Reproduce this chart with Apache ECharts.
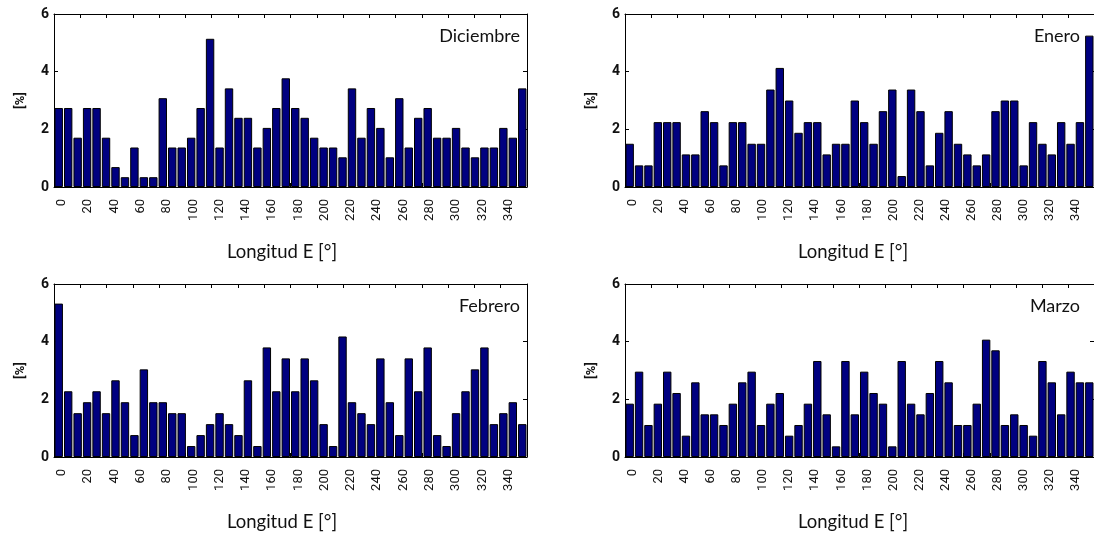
<!DOCTYPE html>
<html>
<head>
<meta charset="utf-8">
<script src="https://cdn.jsdelivr.net/npm/echarts@6/dist/echarts.min.js"></script>
<style>
  html, body { margin: 0; padding: 0; background: #fff; }
  #chart { width: 1094px; height: 534px; }
</style>
</head>
<body>
<div id="chart"></div>
<script>
// Longitude histograms (7.2 deg bins), percentage of cases per bin
const months = ['Diciembre', 'Enero', 'Febrero', 'Marzo'];
const binWidth = 7.2;
const binCount = 50;
const xTickLabels = [0, 20, 40, 60, 80, 100, 120, 140, 160, 180, 200, 220, 240, 260, 280, 300, 320, 340];

const diciembre = [2.74, 2.74, 1.71, 2.74, 2.74, 1.71, 0.69, 0.34, 1.37, 0.34,
  0.34, 3.08, 1.37, 1.37, 1.71, 2.74, 5.14, 1.37, 3.42, 2.40,
  2.40, 1.37, 2.05, 2.74, 3.77, 2.74, 2.40, 1.71, 1.37, 1.37,
  1.03, 3.42, 1.71, 2.74, 2.05, 1.03, 3.08, 1.37, 2.40, 2.74,
  1.71, 1.71, 2.05, 1.37, 1.03, 1.37, 1.37, 2.05, 1.71, 3.42];

const enero = [1.50, 0.75, 0.75, 2.25, 2.25, 2.25, 1.13, 1.13, 2.63, 2.25,
  0.75, 2.25, 2.25, 1.50, 1.50, 3.38, 4.13, 3.00, 1.88, 2.25,
  2.25, 1.13, 1.50, 1.50, 3.00, 2.25, 1.50, 2.63, 3.38, 0.38,
  3.38, 2.63, 0.75, 1.88, 2.63, 1.50, 1.13, 0.75, 1.13, 2.63,
  3.00, 3.00, 0.75, 2.25, 1.50, 1.13, 2.25, 1.50, 2.25, 5.25];

const febrero = [5.32, 2.28, 1.52, 1.90, 2.28, 1.52, 2.66, 1.90, 0.76, 3.04,
  1.90, 1.90, 1.52, 1.52, 0.38, 0.76, 1.14, 1.52, 1.14, 0.76,
  2.66, 0.38, 3.80, 2.28, 3.42, 2.28, 3.42, 2.66, 1.14, 0.38,
  4.18, 1.90, 1.52, 1.14, 3.42, 1.90, 0.76, 3.42, 2.28, 3.80,
  0.76, 0.38, 1.52, 2.28, 3.04, 3.80, 1.14, 1.52, 1.90, 1.14];

const marzo = [1.85, 2.96, 1.11, 1.85, 2.96, 2.22, 0.74, 2.59, 1.48, 1.48,
  1.11, 1.85, 2.59, 2.96, 1.11, 1.85, 2.22, 0.74, 1.11, 1.85,
  3.33, 1.48, 0.37, 3.33, 1.48, 2.96, 2.22, 1.85, 0.37, 3.33,
  1.85, 1.48, 2.22, 3.33, 2.59, 1.11, 1.11, 1.85, 4.07, 3.70,
  1.11, 1.48, 1.11, 0.74, 3.33, 2.59, 1.48, 2.96, 2.59, 2.59];

const monthData = [diciembre, enero, febrero, marzo];

// bin centres along the longitude axis
const binCentres = Array.from({ length: binCount }, (_, i) => (i + 0.5) * binWidth);

const panels = [
  { left: 54, top: 14, labelRight: 574 },
  { left: 625, top: 14, labelRight: 14 },
  { left: 54, top: 284, labelRight: 574 },
  { left: 625, top: 284, labelRight: 14 }
];
const PLOT_W = 473;
const PLOT_H = 173;
const TEXT = '#111';
const FONT = 'Lato, "Open Sans", sans-serif';

const grid = [];
const xAxis = [];
const yAxis = [];
const series = [];
const title = [];
const graphic = [];

const frameLine = { show: true, onZero: false, lineStyle: { color: '#000', width: 1 } };
const frameTick = { show: true, inside: true, length: 4, lineStyle: { color: '#000' } };

panels.forEach((p, i) => {
  grid.push({ left: p.left, top: p.top, width: PLOT_W, height: PLOT_H });

  ['bottom', 'top'].forEach(pos => {
    xAxis.push({
      gridIndex: i, type: 'value', min: 0, max: 360, interval: 20, position: pos,
      axisLine: frameLine, axisTick: frameTick,
      axisLabel: { show: false }, splitLine: { show: false }
    });
  });
  // label axis, shifted a little to the right like the rotated labels of the original
  xAxis.push({
    gridIndex: i, type: 'value', min: -6, max: 354, position: 'bottom',
    axisLine: { show: false, onZero: false }, axisTick: { show: false }, splitLine: { show: false },
    axisLabel: {
      customValues: xTickLabels, rotate: 90, margin: 12,
      color: TEXT, fontSize: 13, fontFamily: 'Roboto, sans-serif'
    }
  });

  yAxis.push({
    gridIndex: i, type: 'value', min: 0, max: 6, interval: 2, position: 'left',
    name: '[%]', nameLocation: 'middle', nameGap: 27, nameRotate: 90,
    nameTextStyle: { color: TEXT, fontSize: 13, fontWeight: 'bold', fontFamily: 'Roboto, sans-serif' },
    axisLine: frameLine, axisTick: frameTick,
    axisLabel: { color: TEXT, fontSize: 14, fontWeight: 'bold', margin: 5, fontFamily: 'Roboto, sans-serif' },
    splitLine: { show: false }
  });
  yAxis.push({
    gridIndex: i, type: 'value', min: 0, max: 6, interval: 2, position: 'right',
    axisLine: frameLine, axisTick: frameTick,
    axisLabel: { show: false }, splitLine: { show: false }
  });

  series.push({
    type: 'bar',
    xAxisIndex: i * 3,
    yAxisIndex: i * 2,
    barWidth: 8.4,
    itemStyle: { color: '#000080', borderColor: '#000', borderWidth: 1 },
    data: binCentres.map((c, k) => [c, monthData[i][k]])
  });

  title.push({
    text: months[i],
    right: p.labelRight,
    top: p.top + 13,
    padding: 0,
    textStyle: { color: TEXT, fontSize: 18, fontWeight: 'normal', fontFamily: FONT }
  });

  graphic.push({
    type: 'text',
    x: p.left + 228,
    y: p.top + 238,
    style: {
      text: 'Longitud E [°]', fill: TEXT, font: '18.5px ' + FONT,
      align: 'center', verticalAlign: 'middle'
    }
  });
});

const chart = echarts.init(document.getElementById('chart'), null, { renderer: 'canvas' });
chart.setOption({
  backgroundColor: '#fff',
  animation: false,
  title: title,
  grid: grid,
  xAxis: xAxis,
  yAxis: yAxis,
  series: series,
  graphic: graphic
});
</script>
</body>
</html>
